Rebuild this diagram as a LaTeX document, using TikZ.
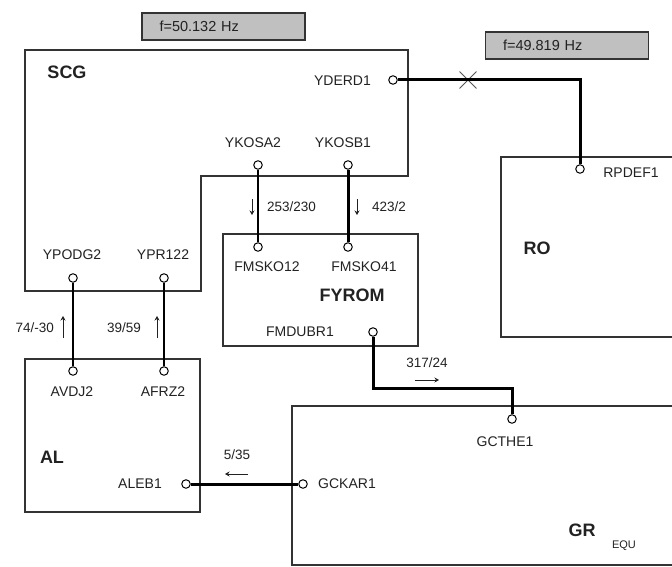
\documentclass[tikz,border=0pt]{standalone}
\usepackage{fontspec}
\setmainfont{Liberation Sans}
\usepackage{xcolor}
\definecolor{boxline}{HTML}{333333}
\definecolor{freqfill}{HTML}{C0C0C0}
\definecolor{txtdark}{HTML}{222222}
\definecolor{crossgray}{HTML}{555555}
\usetikzlibrary{positioning, arrows.meta, shapes.misc}
\tikzset{
  area/.style   ={draw=boxline, line width=1.4pt},
  port/.style   ={circle, draw=black, fill=white, line width=1pt, minimum size=8.5pt, inner sep=0pt},
  plbl/.style   ={font=\fontsize{14}{16}\selectfont, text=txtdark, inner sep=0pt},
  flbl/.style   ={font=\fontsize{13.5}{15}\selectfont, text=txtdark, inner sep=0pt},
  rlbl/.style   ={font=\bfseries\fontsize{18}{20}\selectfont, text=txtdark, inner sep=0pt},
  freqbox/.style={rectangle, draw=boxline, line width=1.4pt, fill=freqfill, minimum width=163pt, minimum height=27pt,
                  inner sep=0pt, text width=128pt, align=left, font=\fontsize{14.5}{16}\selectfont, text=txtdark},
  tline/.style  ={line width=1.4pt},
  kline/.style  ={line width=3pt},
  flow/.style   ={-{Stealth[length=4.5pt, width=5pt]}, line width=1pt, color=txtdark},
  brk/.style    ={cross out, draw=crossgray, line width=0.9pt, minimum size=16pt, inner sep=0pt},
}
\begin{document}
\begin{tikzpicture}[x=1pt, y=-1pt]
  \clip (0,0) rectangle (672,567);
  \fill[white] (0,0) rectangle (672,567);

  \node[freqbox] (fscg) at (223.5,26.5) {f=50.132 Hz};
  \node[freqbox] (fro) at (567,45.5) {f=49.819 Hz};

  \draw[area] (25,50) -- (408,50) -- (408,176) -- (201,176) -- (201,291) -- (25,291) -- cycle;
  \draw[area] (223,234) rectangle (418,346);
  \draw[area] (501,157) rectangle (700,337);
  \draw[area] (25,359) rectangle (200,512);
  \draw[area] (292,406) rectangle (700,565);

  \node[rlbl] (scg) at (67,72) {SCG};
  \node[rlbl] (fyrom) at (352,295) {FYROM};
  \node[rlbl] (ro) at (537,248) {RO};
  \node[rlbl] (al) at (52,457) {AL};
  \node[rlbl] (gr) at (582,530) {GR};
  \node[plbl, font=\fontsize{11}{12}\selectfont] (equ) at (624,546) {EQU};

  \node[port] (yderd1) at (393,80) {};
  \node[port] (rpdef1) at (580,169) {};
  \node[port] (ykosa2) at (258,165) {};
  \node[port] (ykosb1) at (348,165) {};
  \node[port] (fmsko12) at (258,247) {};
  \node[port] (fmsko41) at (348,247) {};
  \node[port] (fmdubr1) at (373,332) {};
  \node[port] (ypodg2) at (73,278) {};
  \node[port] (ypr122) at (164,278) {};
  \node[port] (avdj2) at (73,371) {};
  \node[port] (afrz2) at (164,371) {};
  \node[port] (aleb1) at (186,484) {};
  \node[port] (gckar1) at (303,484) {};
  \node[port] (gcthe1) at (512,419) {};

  \node[plbl] at (342.5,81) {YDERD1};
  \node[plbl] at (631,173) {RPDEF1};
  \node[plbl] at (253,143) {YKOSA2};
  \node[plbl] at (343,143) {YKOSB1};
  \node[plbl] at (267,267) {FMSKO12};
  \node[plbl] at (364,267) {FMSKO41};
  \node[plbl] at (300,332) {FMDUBR1};
  \node[plbl] at (72,255) {YPODG2};
  \node[plbl] at (163,255) {YPR122};
  \node[plbl] at (72,392) {AVDJ2};
  \node[plbl] at (163,392) {AFRZ2};
  \node[plbl] at (140,484) {ALEB1};
  \node[plbl] at (347,484) {GCKAR1};
  \node[plbl] at (505,442) {GCTHE1};

  \coordinate (knee) at (373,388);
  \node[brk] (cut) at (468,80) {};

  \draw[kline] (yderd1) -| (rpdef1);
  \draw[tline] (ykosa2) -- (fmsko12);
  \draw[kline] (ykosb1) -- (fmsko41);
  \draw[tline] (ypodg2) -- (avdj2);
  \draw[tline] (ypr122) -- (afrz2);
  \draw[kline] (aleb1) -- (gckar1);
  \draw[kline] (fmdubr1) -- (knee) -| (gcthe1);

  \foreach \xa/\ya/\xb/\yb in {252/199/252/215, 357/199/357/215, 63/338/63/316, 157/338/157/316, 248/474/225/474, 415/380/439/380}
    \draw[flow] (\xa,\ya) -- (\xb,\yb);

  \node[flbl, anchor=west] at (267,207) {253/230};
  \node[flbl, anchor=west] at (372,207) {423/2};
  \node[flbl, anchor=east] at (54,328) {74/-30};
  \node[flbl] at (124,328) {39/59};
  \node[flbl] at (237,455) {5/35};
  \node[flbl] at (427,363) {317/24};
\end{tikzpicture}
\end{document}
